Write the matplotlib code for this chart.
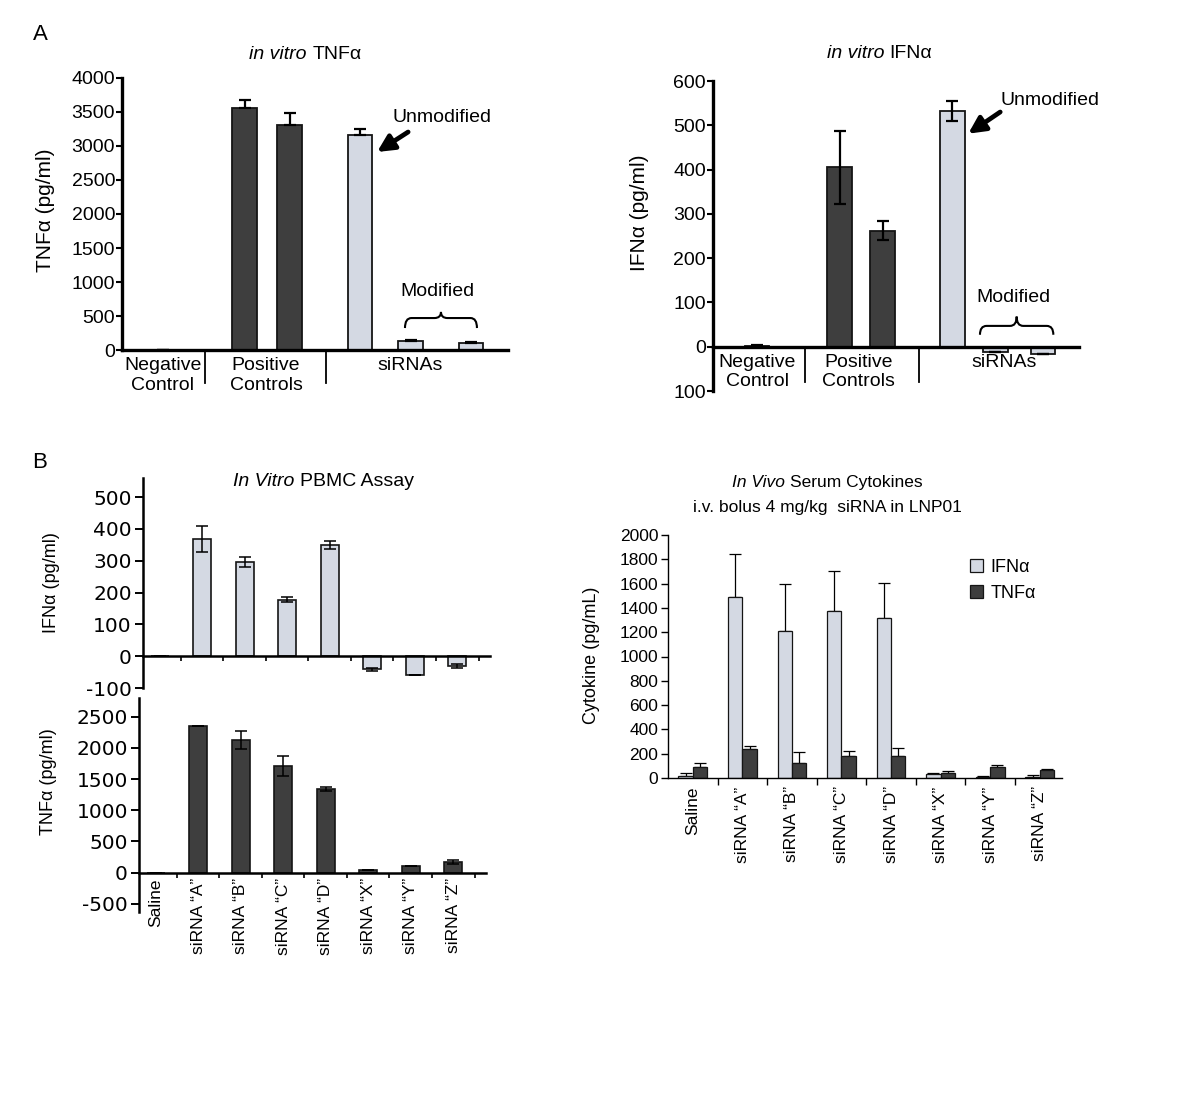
import matplotlib
matplotlib.use("Agg")
import matplotlib.pyplot as plt
from matplotlib.path import Path
from matplotlib.patches import PathPatch, Patch
from matplotlib.ticker import FixedLocator, NullFormatter
from matplotlib.offsetbox import TextArea, HPacker, AnnotationBbox

plt.rcParams['font.family'] = ['Liberation Sans', 'DejaVu Sans']
plt.rcParams['axes.unicode_minus'] = False

# ---------------- data ----------------
# Panel A left: in vitro TNFa
a1_values = [0, 3560, 3310, 3160, 130, 110]
a1_err = [0, 110, 175, 85, 15, 15]
a1_kind = ['dark', 'dark', 'dark', 'light', 'light', 'light']
a1_ticks = [0, 500, 1000, 1500, 2000, 2500, 3000, 3500, 4000]

# Panel A right: in vitro IFNa
a2_values = [2, 405, 262, 532, -11, -16]
a2_err = [1, 82, 21, 22, 0, 0]
a2_kind = ['dark', 'dark', 'dark', 'light', 'light', 'light']
a2_ticks = [-100, 0, 100, 200, 300, 400, 500, 600]
a2_ticklabels = ['100', '0', '100', '200', '300', '400', '500', '600']

group_labels = ['Negative\nControl', 'Positive\nControls', 'siRNAs']

# Panel B
b_categories = ['Saline', 'siRNA \u201cA\u201d', 'siRNA \u201cB\u201d', 'siRNA \u201cC\u201d',
                'siRNA \u201cD\u201d', 'siRNA \u201cX\u201d', 'siRNA \u201cY\u201d', 'siRNA \u201cZ\u201d']
# In vitro PBMC assay
pbmc_ifn = [0, 368, 295, 178, 350, -41, -60, -30]
pbmc_ifn_err = [0, 41, 16, 7, 12, 4, 0, 7]
pbmc_tnf = [0, 2350, 2130, 1710, 1345, 50, 100, 170]
pbmc_tnf_err = [0, 5, 140, 160, 30, 0, 0, 32]
pbmc_ifn_ticks = [-100, 0, 100, 200, 300, 400, 500]
pbmc_tnf_ticks = [-500, 0, 500, 1000, 1500, 2000, 2500]
# In vivo serum cytokines
vivo_ifn = [20, 1490, 1210, 1374, 1317, 30, 10, 10]
vivo_ifn_err = [20, 353, 387, 330, 288, 15, 6, 18]
vivo_tnf = [90, 239, 123, 181, 181, 38, 90, 65]
vivo_tnf_err = [30, 24, 91, 41, 66, 17, 15, 7]
vivo_ticks = list(range(0, 2001, 200))

LIGHT = '#d4d9e3'
DARK = '#3e3e3e'
EDGE = '#151515'

W, H = 1200, 1093
fig = plt.figure(figsize=(W / 100, H / 100), dpi=100)


def px_axes(l, t, r, b):
    return fig.add_axes([l / W, 1 - b / H, (r - l) / W, (b - t) / H])


def rich_title(ax, x, y, italic, plain, fs, sep=None):
    if sep is None:
        sep = fs * 0.28
    box = HPacker(children=[TextArea(italic, textprops=dict(style='italic', size=fs)),
                            TextArea(plain, textprops=dict(size=fs))],
                  pad=0, sep=sep, align='baseline')
    ab = AnnotationBbox(box, (x, y), xycoords=ax.transAxes, frameon=False,
                        box_alignment=(0.5, 0.5), pad=0, annotation_clip=False)
    ax.add_artist(ab)


def brace(ax, x0, x1, y_end, y_mid, y_peak, lw=1.5):
    xm = (x0 + x1) / 2
    r = (x1 - x0) * 0.09
    verts = [(x0, y_end), (x0, y_mid), (x0 + r, y_mid),
             (xm - r, y_mid), (xm, y_mid), (xm, y_peak),
             (xm, y_mid), (xm + r, y_mid),
             (x1 - r, y_mid), (x1, y_mid), (x1, y_end)]
    codes = [Path.MOVETO, Path.CURVE3, Path.CURVE3,
             Path.LINETO, Path.CURVE3, Path.CURVE3,
             Path.CURVE3, Path.CURVE3,
             Path.LINETO, Path.CURVE3, Path.CURVE3]
    ax.add_patch(PathPatch(Path(verts, codes), fill=False, lw=lw,
                           edgecolor='black', clip_on=False))


def panel_a(ax, positions, values, err, kinds, two_sided, seps, sep_bottom,
            label_pos, fs=14):
    colors = [LIGHT if k == 'light' else DARK for k in kinds]
    ax.bar(positions, values, width=0.55, color=colors, edgecolor=EDGE,
           linewidth=1.3, zorder=2)
    lower = [e if two_sided else 0 for e in err]
    ax.errorbar(positions, values, yerr=[lower, err], fmt='none',
                ecolor='black', elinewidth=1.6, capsize=4.5, capthick=1.6,
                zorder=3)
    for s in ['top', 'right']:
        ax.spines[s].set_visible(False)
    ax.spines['left'].set_linewidth(2.4)
    ax.spines['bottom'].set_linewidth(2.4)
    ax.spines['bottom'].set_position(('data', 0))
    ax.spines['bottom'].set_zorder(4)
    ax.set_xticks([])
    ax.tick_params(axis='y', direction='out', length=4, width=1.5,
                   labelsize=fs, pad=1)
    for sx in seps:
        ax.plot([sx, sx], [0, sep_bottom], color='black', lw=1.3,
                clip_on=False)
    for cx, lab in zip(label_pos, group_labels):
        ax.annotate(lab, xy=(cx, 0), xytext=(0, -5), textcoords='offset points',
                    ha='center', va='top', fontsize=fs, linespacing=1.2,
                    annotation_clip=False)


ARROW = dict(arrowstyle='-|>,head_length=1.0,head_width=0.5',
             lw=3.4, color='black', shrinkA=0, shrinkB=0)

# ---------------- Panel A left ----------------
ax1 = px_axes(122, 78, 508, 350)
pos1 = [0.91, 2.73, 3.73, 5.29, 6.42, 7.76]
ax1.set_xlim(0, 8.58)
ax1.set_ylim(0, 4000)
panel_a(ax1, pos1, a1_values, a1_err, a1_kind, False, [1.84, 4.53], -485,
        [0.91, 3.2, 6.4])
ax1.set_yticks(a1_ticks)
rich_title(ax1, 0.475, 1.085, 'in vitro', 'TNF\u03b1', 14)
ax1.text(-0.199, 0.515, 'TNF\u03b1 (pg/ml)', transform=ax1.transAxes,
         rotation=90, ha='center', va='center', fontsize=15)
ax1.annotate('', xy=(5.67, 2912), xytext=(6.36, 3206), arrowprops=ARROW)
ax1.text(6.02, 3426, 'Unmodified', ha='left', va='center', fontsize=14)
ax1.text(7.02, 853, 'Modified', ha='center', va='center', fontsize=14)
brace(ax1, 6.29, 7.89, 323, 470, 560)

# ---------------- Panel A right ----------------
ax2 = px_axes(713, 81, 1079, 391)
pos2 = [0.98, 2.81, 3.77, 5.32, 6.27, 7.33]
ax2.set_xlim(0, 8.13)
ax2.set_ylim(-100, 600)
panel_a(ax2, pos2, a2_values, a2_err, a2_kind, True, [2.04, 4.58], -80,
        [0.98, 3.24, 6.47])
ax2.set_yticks(a2_ticks)
ax2.set_yticklabels(a2_ticklabels)
rich_title(ax2, 0.455, 1.09, 'in vitro', 'IFN\u03b1', 14)
ax2.text(-0.202, 0.574, 'IFN\u03b1 (pg/ml)', transform=ax2.transAxes,
         rotation=90, ha='center', va='center', fontsize=15)
ax2.annotate('', xy=(5.67, 481), xytext=(6.38, 530), arrowprops=ARROW)
ax2.text(6.38, 557, 'Unmodified', ha='left', va='center', fontsize=14)
ax2.text(6.67, 112, 'Modified', ha='center', va='center', fontsize=14)
brace(ax2, 5.93, 7.56, 27, 47, 68)

fig.text(40 / W, 1 - 35 / H, 'A', fontsize=16, ha='center', va='center')
fig.text(40 / W, 1 - 462 / H, 'B', fontsize=16, ha='center', va='center')

# ---------------- Panel B left ----------------
xb = list(range(len(b_categories)))
boundaries = [i + 0.5 for i in range(len(b_categories))]


def panel_b_left(ax, values, err, color, ticks, ylim):
    ax.bar(xb, values, width=0.42, color=color, edgecolor=EDGE, linewidth=1.2,
           zorder=2)
    ax.errorbar(xb, values, yerr=err, fmt='none', ecolor='black',
                elinewidth=1.1, capsize=4, capthick=1.1, zorder=3)
    ax.set_xlim(-0.39, 7.77)
    ax.set_ylim(*ylim)
    for s in ['top', 'right']:
        ax.spines[s].set_visible(False)
    ax.spines['left'].set_linewidth(1.8)
    ax.spines['bottom'].set_linewidth(1.8)
    ax.spines['bottom'].set_position(('data', 0))
    ax.spines['bottom'].set_zorder(4)
    ax.set_yticks(ticks)
    ax.tick_params(axis='y', direction='out', length=6, width=1.4,
                   labelsize=14.5, pad=2, labelfontfamily='DejaVu Sans')
    ax.xaxis.set_minor_locator(FixedLocator(boundaries))
    ax.xaxis.set_minor_formatter(NullFormatter())
    ax.tick_params(axis='x', which='minor', direction='out', length=3.5,
                   width=1.2)
    ax.tick_params(axis='x', which='major', length=0)


axb1 = px_axes(143, 478, 490, 688)
panel_b_left(axb1, pbmc_ifn, pbmc_ifn_err, LIGHT, pbmc_ifn_ticks, (-100, 560))
axb1.set_xticks(xb)
axb1.set_xticklabels([])
rich_title(axb1, 0.519, 0.981, 'In Vitro', 'PBMC Assay', 14)
axb1.text(-0.265, 0.5, 'IFN\u03b1 (pg/ml)', transform=axb1.transAxes,
          rotation=90, ha='center', va='center', fontsize=13)

axb2 = px_axes(139, 698, 486, 912)
panel_b_left(axb2, pbmc_tnf, pbmc_tnf_err, DARK, pbmc_tnf_ticks, (-630, 2800))
axb2.set_xticks(xb)
axb2.set_xticklabels(b_categories, rotation=90, fontsize=12.5)
axb2.tick_params(axis='x', which='major', pad=4)
axb2.text(-0.262, 0.607, 'TNF\u03b1 (pg/ml)', transform=axb2.transAxes,
          rotation=90, ha='center', va='center', fontsize=13)

# ---------------- Panel B right ----------------
axr = px_axes(668, 535, 1062, 778)
bw = 0.29
x_ifn = [x - bw / 2 for x in xb]
x_tnf = [x + bw / 2 for x in xb]
axr.bar(x_ifn, vivo_ifn, width=bw, color=LIGHT, edgecolor=EDGE, linewidth=0.9,
        zorder=2, label='IFN\u03b1')
axr.bar(x_tnf, vivo_tnf, width=bw, color=DARK, edgecolor=EDGE, linewidth=0.9,
        zorder=2, label='TNF\u03b1')
axr.errorbar(x_ifn, vivo_ifn, yerr=[[0] * len(xb), vivo_ifn_err], fmt='none',
             ecolor='black', elinewidth=0.9, capsize=4, capthick=0.9, zorder=1)
axr.errorbar(x_tnf, vivo_tnf, yerr=[[0] * len(xb), vivo_tnf_err], fmt='none',
             ecolor='black', elinewidth=0.9, capsize=4, capthick=0.9, zorder=1)
axr.set_xlim(-0.5, 7.45)
axr.set_ylim(0, 2000)
for s in ['top', 'right']:
    axr.spines[s].set_visible(False)
axr.spines['left'].set_linewidth(1.0)
axr.spines['bottom'].set_linewidth(1.0)
axr.set_yticks(vivo_ticks)
axr.tick_params(axis='y', direction='out', length=5, width=1.0, labelsize=12.5,
                pad=2)
axr.set_xticks(xb)
axr.set_xticklabels(b_categories, rotation=90, fontsize=12.5)
axr.tick_params(axis='x', which='major', length=0, pad=6)
axr.xaxis.set_minor_locator(FixedLocator(boundaries[:-1]))
axr.xaxis.set_minor_formatter(NullFormatter())
axr.tick_params(axis='x', which='minor', direction='out', length=5, width=1.0)
rich_title(axr, 0.404, 1.218, 'In Vivo', 'Serum Cytokines', 12.5)
axr.text(0.404, 1.115, 'i.v. bolus 4 mg/kg  siRNA in LNP01',
         transform=axr.transAxes, ha='center', va='center', fontsize=12.5)
axr.text(-0.193, 0.506, 'Cytokine (pg/mL)', transform=axr.transAxes,
         rotation=90, ha='center', va='center', fontsize=13)
handles = [Patch(facecolor=LIGHT, edgecolor=EDGE, linewidth=0.9),
           Patch(facecolor=DARK, edgecolor=EDGE, linewidth=0.9)]
axr.legend(handles, ['IFN\u03b1', 'TNF\u03b1'], loc='upper left',
           bbox_to_anchor=(0.725, 0.97), frameon=False, fontsize=13,
           handlelength=0.75, handleheight=0.75, handletextpad=0.4,
           labelspacing=0.5)

fig.savefig('out.png', dpi=100)
